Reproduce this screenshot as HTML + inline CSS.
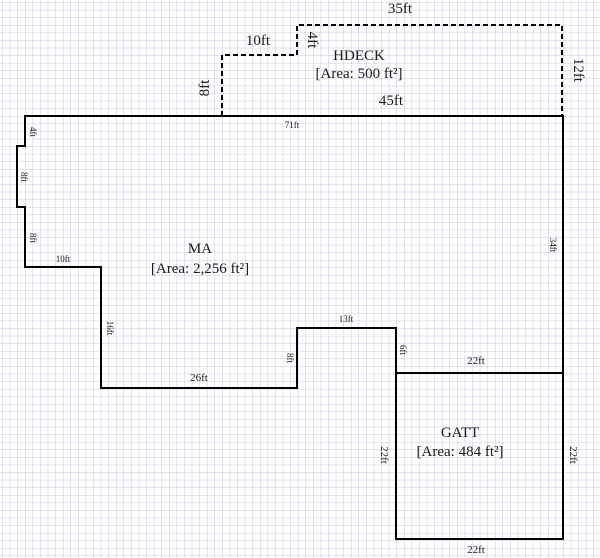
<!DOCTYPE html>
<html><head><meta charset="utf-8"><style>
html,body{margin:0;padding:0;background:#fff}
svg{display:block}
text{font-family:"Liberation Serif",serif;fill:#1a1a1a}
</style></head><body>
<svg width="600" height="558" viewBox="0 0 600 558" xmlns="http://www.w3.org/2000/svg">
<defs>
<pattern id="g" x="25" y="116" width="7.58" height="7.58" patternUnits="userSpaceOnUse">
<path d="M0 0H7.58M0 0V7.58" stroke="#c6c6da" stroke-width="1" fill="none"/>
</pattern>
</defs>
<rect width="600" height="558" fill="#fff"/>
<rect width="600" height="558" fill="url(#g)"/>
<g fill="none" stroke="#000" stroke-width="2">
<path d="M25 116H563V539H396V328H297V388H101V267H25V207H17V146H25Z"/>
<path d="M396 373H563"/>
</g>
<path d="M222 116V55H297V25H562V116" fill="none" stroke="#000" stroke-width="2" stroke-dasharray="5,3"/>
<g font-size="15" text-anchor="middle">
<text x="400" y="13">35ft</text>
<text x="258" y="45">10ft</text>
<text x="359" y="60">HDECK</text>
<text x="359" y="78">[Area: 500 ft²]</text>
<text x="391" y="105">45ft</text>
<text transform="translate(574,70) rotate(90)">12ft</text>
<text transform="translate(209,88) rotate(-90)">8ft</text>
<text transform="translate(308,40) rotate(90)">4ft</text>
<text x="200" y="253">MA</text>
<text x="200" y="273">[Area: 2,256 ft²]</text>
<text x="460" y="437">GATT</text>
<text x="460" y="456">[Area: 484 ft²]</text>
</g>
<g font-size="11" text-anchor="middle">
<text x="199" y="381">26ft</text>
<text x="476" y="364">22ft</text>
<text x="476" y="553">22ft</text>
<text transform="translate(381,455) rotate(90)">22ft</text>
<text transform="translate(570,455) rotate(90)">22ft</text>
</g>
<g font-size="9" text-anchor="middle">
<text x="292" y="128">71ft</text>
<text x="63" y="262">10ft</text>
<text x="346" y="322">13ft</text>
<text transform="translate(550,245) rotate(90)">34ft</text>
<text transform="translate(107,328) rotate(90)">16ft</text>
<text transform="translate(287,358) rotate(90)">8ft</text>
<text transform="translate(400,350) rotate(90)">6ft</text>
<text transform="translate(30,132) rotate(90)">4ft</text>
<text transform="translate(21,177) rotate(90)">8ft</text>
<text transform="translate(30,238) rotate(90)">8ft</text>
</g>
</svg>
</body></html>
